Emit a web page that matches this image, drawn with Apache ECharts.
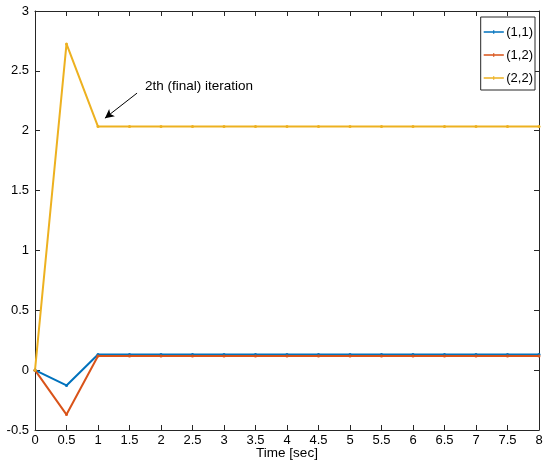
<!DOCTYPE html>
<html><head><meta charset="utf-8">
<script src="https://cdn.jsdelivr.net/npm/echarts@6/dist/echarts.min.js"></script>
<style>html,body{margin:0;padding:0;background:#fff}#c{width:543px;height:463px}</style>
</head><body><div id="c"></div>
<script>
const times = [0,0.5,1,1.5,2,2.5,3,3.5,4,4.5,5,5.5,6,6.5,7,7.5,8];
const s11 = [0,-0.128,0.131,0.131,0.131,0.131,0.131,0.131,0.131,0.131,0.131,0.131,0.131,0.131,0.131,0.131,0.131];
const s12 = [0,-0.371,0.118,0.118,0.118,0.118,0.118,0.118,0.118,0.118,0.118,0.118,0.118,0.118,0.118,0.118,0.118];
const s22 = [0,2.725,2.035,2.035,2.035,2.035,2.035,2.035,2.035,2.035,2.035,2.035,2.035,2.035,2.035,2.035,2.035];
const names = ['(1,1)','(1,2)','(2,2)'];
const colors = ['#0072BD','#D95319','#EDB120'];
const annText = '2th (final) iteration';

const font = 'Liberation Sans, Arial, Helvetica, sans-serif';
const chart = echarts.init(document.getElementById('c'));
const legendIcon = 'path://M0,1.2h10v-1.2a1.5,1.5 0 0,1 1,0v1.2h10v1.6h-10v1.2a1.5,1.5 0 0,1 -1,0v-1.2h-10z';
function mk(name, vals, color) {
  return {
    name, type:'line', data: times.map((t,i)=>[t, vals[i]]),
    symbol:'circle', symbolSize:3, showSymbol:true,
    lineStyle:{color, width:2}, itemStyle:{color},
    emphasis:{disabled:true}, animation:false, z:3
  };
}
const series = [mk(names[0], s11, colors[0]), mk(names[1], s12, colors[1]), mk(names[2], s22, colors[2])];
series[2].markLine = {
  silent:true, symbol:['none','arrow'], symbolSize:[7,9],
  lineStyle:{color:'#000', width:1, type:'solid'},
  label:{show:false},
  data:[[{coord:[1.62,2.314]},{coord:[1.11,2.105]}]]
};
series[2].markPoint = {
  silent:true, symbol:'circle', symbolSize:0,
  label:{show:true, position:'right', distance:0, formatter:annText, color:'#000', fontSize:13.5, fontFamily:font},
  data:[{coord:[1.746,2.373]}]
};
const axisLine = {show:true, onZero:false, lineStyle:{color:'#262626', width:1}};
const tick = {show:true, inside:true, length:5, lineStyle:{color:'#262626'}};
chart.setOption({
  animation:false,
  backgroundColor:'#fff',
  grid:{left:35, right:4, top:11, bottom:33, show:false, containLabel:false, outerBoundsMode:'none'},
  legend:{
    data:names.map(n=>({name:n, icon:legendIcon})), orient:'vertical', right:8, top:17,
    backgroundColor:'#fff', borderColor:'#262626', borderWidth:1,
    padding:[8,2,5,3], itemGap:9, itemWidth:21, itemHeight:4,
    textStyle:{fontSize:13, lineHeight:14, fontFamily:font, color:'#000', padding:[0,0,0,-3]}
  },
  xAxis:[{
    type:'value', min:0, max:8, interval:0.5, position:'bottom',
    name:'Time [sec]', nameLocation:'middle', nameGap:16, nameMoveOverlap:false,
    nameTextStyle:{fontSize:13.5, fontFamily:font, color:'#000'},
    axisLine, axisTick:tick,
    axisLabel:{fontSize:13, fontFamily:font, color:'#000', margin:4},
    splitLine:{show:false}
  },{
    type:'value', min:0, max:8, interval:0.5, position:'top',
    axisLine, axisTick:tick,
    axisLabel:{show:false}, splitLine:{show:false}
  }],
  yAxis:[{
    type:'value', min:-0.5, max:3, interval:0.5, position:'left',
    axisLine, axisTick:tick,
    axisLabel:{fontSize:13, fontFamily:font, color:'#000', margin:6},
    splitLine:{show:false}
  },{
    type:'value', min:-0.5, max:3, interval:0.5, position:'right',
    axisLine, axisTick:tick,
    axisLabel:{show:false}, splitLine:{show:false}
  }],
  series
});
</script></body></html>
